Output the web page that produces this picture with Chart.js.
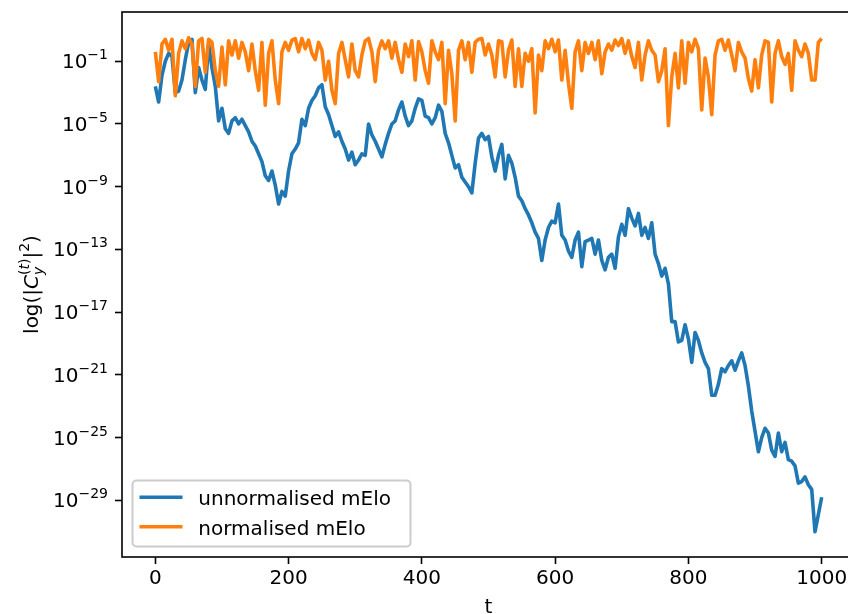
<!DOCTYPE html>
<html>
<head>
<meta charset="utf-8">
<script src="https://cdn.jsdelivr.net/npm/chart.js@4.4.1/dist/chart.umd.min.js"></script>
<style>
  html, body { margin: 0; padding: 0; background: #fff; }
  #wrap { width: 848px; height: 614px; overflow: hidden; }
  canvas { display: block; }
</style>
</head>
<body>
<div id="wrap"><canvas id="meloChart" width="860" height="614"></canvas></div>
<script>
// ONE READING EVERY 5 STEPS OF t
const T_STEP = 5;

// log10(|C_y|^2), t = 0, 5, ..., 1000
const unnormalisedExp = [
  -2.6, -3.6, -1.9, -1.0, -0.5, -0.7, -3.0, -2.9, -2.2, -0.9,
  0.2, 0.4, -3.0, -1.4, -2.2, -2.8, 0.1, -1.4, -2.6, -4.8,
  -4.0, -5.3, -5.6, -4.8, -4.6, -5.0, -4.7, -5.1, -5.5, -6.1,
  -6.4, -6.9, -7.4, -8.3, -8.6, -8.0, -8.9, -10.1, -9.3, -9.6,
  -8.0, -6.9, -6.6, -6.2, -4.7, -5.1, -4.0, -3.5, -3.2, -2.7,
  -2.5, -3.9, -4.4, -5.1, -5.8, -5.5, -6.1, -6.6, -7.3, -6.8,
  -7.6, -7.3, -6.9, -7.0, -5.0, -5.7, -6.1, -6.6, -7.1, -6.3,
  -5.6, -5.0, -4.8, -4.1, -3.6, -4.5, -5.1, -4.8, -4.0, -3.4,
  -3.5, -4.5, -4.6, -5.0, -4.6, -3.8, -4.2, -5.6, -6.2, -7.0,
  -7.8, -7.6, -8.4, -8.7, -9.0, -9.4, -7.5, -5.9, -5.6, -6.0,
  -5.8, -7.1, -8.0, -7.0, -6.3, -8.5, -7.0, -7.5, -8.4, -9.6,
  -9.9, -10.4, -10.8, -11.3, -11.9, -12.3, -13.7, -12.4, -11.6, -11.2,
  -11.3, -10.1, -12.1, -12.4, -13.1, -13.5, -12.4, -11.9, -14.1, -12.5,
  -12.4, -12.3, -13.3, -12.4, -13.7, -14.3, -13.5, -13.3, -14.2, -12.2,
  -11.4, -12.1, -10.4, -11.0, -11.5, -10.7, -12.1, -11.6, -12.3, -11.3,
  -13.3, -13.9, -14.7, -14.2, -15.2, -17.6, -17.6, -18.9, -18.8, -17.8,
  -18.7, -20.2, -18.3, -18.8, -19.6, -20.2, -20.6, -22.3, -22.3, -21.6,
  -20.6, -20.8, -20.4, -20.1, -20.7, -20.1, -19.6, -20.4, -21.7, -23.3,
  -24.6, -25.9, -25.0, -24.4, -24.7, -25.8, -26.2, -24.7, -25.9, -25.3,
  -26.4, -26.5, -26.8, -27.9, -27.8, -27.5, -28.0, -28.3, -31.0, -29.9,
  -28.8,
];

const normalisedExp = [
  -0.4, -2.3, 0.1, 0.4, -0.3, 0.4, -3.2, -0.5, 0.3, -0.2,
  0.5, 0.1, -2.6, 0.3, 0.45, -1.7, 0.4, 0.2, -1.6, -2.6,
  -0.1, -2.5, 0.3, -0.6, 0.3, -0.8, 0.2, -0.4, -1.6, 0.1,
  -1.6, -2.85, 0.2, -3.8, -0.5, 0.3, -2.2, -3.7, -0.4, 0.2,
  -0.3, 0.35, 0.45, -0.4, 0.45, -0.2, 0.35, -0.5, -0.9, 0.2,
  -0.3, -2.2, -1.0, -2.85, -3.7, -0.5, 0.2, -0.9, -2.0, 0.1,
  -1.6, -2.0, -0.6, 0.3, 0.45, -0.4, -2.3, -0.3, 0.3, -0.2,
  0.3, -0.8, 0.2, -0.9, -1.7, 0.1, -0.7, 0.3, -2.2, 0.25,
  -0.4, -1.6, -2.4, 0.3, -0.4, -0.9, 0.2, -3.7, -0.3, -1.8,
  -4.8, -0.3, 0.3, -0.9, 0.2, -1.7, 0.2, 0.4, 0.45, -0.6,
  0.1, -0.6, -2.0, 0.3, 0.25, -2.0, -0.3, 0.35, -2.6, -0.2,
  -2.6, -0.5, -1.0, -0.2, -4.3, -0.6, -1.6, 0.3, -0.2, 0.4,
  -0.4, 0.35, -2.2, -0.3, -2.4, -4.0, -0.4, 0.3, -1.6, 0.2,
  -0.5, 0.2, -0.9, 0.3, -1.8, -0.4, 0.1, -0.3, 0.35, 0.0,
  0.45, -0.5, 0.3, -0.7, -1.4, 0.2, -2.2, -0.6, 0.3, -0.3,
  -0.6, -2.3, -1.6, -0.2, -5.1, -2.0, -0.5, -2.7, 0.3, -2.4,
  0.2, -0.4, 0.4, -0.2, -4.1, -0.8, -2.0, -4.4, -0.6, 0.3,
  0.4, -0.3, 0.35, -0.6, -1.6, 0.2, -0.4, -0.8, -2.1, -2.9,
  -0.9, -2.7, -0.6, 0.3, 0.2, -3.6, -0.5, 0.3, -0.7, -1.2,
  -0.5, -2.85, 0.3, -0.3, -0.7, 0.1, -0.5, -2.2, -2.2, 0.2,
  0.45,
];

const xTickValues = [0, 200, 400, 600, 800, 1000];
const yTickExps = [-1, -5, -9, -13, -17, -21, -25, -29];
const seriesLabels = ["unnormalised mElo", "normalised mElo"];
const seriesColors = ["#1f77b4", "#ff7f0e"];

const FONT = "'DejaVu Sans', sans-serif";
const LINE_W = 3.6;

function toPoints(exps) {
  return exps.map((e, i) => ({ x: i * T_STEP, y: Math.pow(10, e) }));
}

// DRAW A ROW OF TEXT PIECES (NORMAL / ITALIC / RAISED / LOWERED)
function drawRuns(ctx, runs, startX, baseY) {
  let x = startX;
  runs.forEach((r) => {
    ctx.font = `${r.i ? "italic " : ""}${r.s}px ${FONT}`;
    ctx.fillText(r.t, x, baseY + (r.dy || 0));
    if (!r.hold) x += ctx.measureText(r.t).width;
  });
}

function runsWidth(ctx, runs) {
  return runs.reduce((w, r) => {
    if (r.hold) return w;
    ctx.font = `${r.i ? "italic " : ""}${r.s}px ${FONT}`;
    return w + ctx.measureText(r.t).width;
  }, 0);
}

const yTitleRuns = [
  { t: "log(|", s: 20 },
  { t: "C", s: 20, i: true },
  { t: "y", s: 14, i: true, dy: 5, hold: true },
  { t: "(", s: 14, dy: -9 },
  { t: "t", s: 14, i: true, dy: -9 },
  { t: ")", s: 14, dy: -9 },
  { t: "|", s: 20 },
  { t: "2", s: 14, dy: -9 },
  { t: ")", s: 20 },
];

// AXES FRAME, Y TICK LABELS, TITLES AND LEGEND
const decorations = {
  id: "decorations",
  afterDraw(chart) {
    const { ctx, chartArea: area, scales } = chart;
    ctx.save();

    ctx.strokeStyle = "#000";
    ctx.lineWidth = 1.6;
    ctx.strokeRect(area.left, area.top, area.right - area.left, area.bottom - area.top);

    // y tick labels as 10 with a raised exponent
    ctx.fillStyle = "#000";
    ctx.textBaseline = "alphabetic";
    ctx.textAlign = "left";
    yTickExps.forEach((e) => {
      const py = scales.y.getPixelForValue(Math.pow(10, e));
      const sup = "\u2212" + Math.abs(e);
      ctx.font = `14px ${FONT}`;
      const supW = ctx.measureText(sup).width;
      ctx.font = `20px ${FONT}`;
      const baseW = ctx.measureText("10").width;
      const right = 108;
      ctx.fillText("10", right - supW - baseW, py + 7);
      ctx.font = `14px ${FONT}`;
      ctx.fillText(sup, right - supW, py - 2);
    });

    // x title
    ctx.font = `20px ${FONT}`;
    ctx.textAlign = "center";
    ctx.fillText("t", (area.left + area.right) / 2, 613);

    // y title, rotated
    ctx.textAlign = "left";
    ctx.save();
    ctx.translate(38, (area.top + area.bottom) / 2);
    ctx.rotate(-Math.PI / 2);
    const w = runsWidth(ctx, yTitleRuns);
    drawRuns(ctx, yTitleRuns, -w / 2, 0);
    ctx.restore();

    // legend
    ctx.beginPath();
    ctx.roundRect(132.5, 480.5, 278, 66, 4);
    ctx.fillStyle = "rgba(255,255,255,0.8)";
    ctx.fill();
    ctx.strokeStyle = "#cccccc";
    ctx.lineWidth = 2;
    ctx.stroke();

    seriesLabels.forEach((label, i) => {
      const rowY = 497.3 + i * 29.4;
      ctx.beginPath();
      ctx.moveTo(139.5, rowY);
      ctx.lineTo(182.5, rowY);
      ctx.strokeStyle = seriesColors[i];
      ctx.lineWidth = LINE_W;
      ctx.stroke();
      ctx.fillStyle = "#000";
      ctx.font = `20px ${FONT}`;
      ctx.fillText(label, 198.3, rowY + 8);
    });

    ctx.restore();
  },
};

const tickGrid = {
  drawOnChartArea: false,
  drawTicks: true,
  tickLength: 7,
  tickWidth: 1.6,
  tickColor: "#000",
};

new Chart(document.getElementById("meloChart"), {
  type: "line",
  data: {
    datasets: [
      {
        label: seriesLabels[0],
        data: toPoints(unnormalisedExp),
        borderColor: seriesColors[0],
        borderWidth: LINE_W,
        pointRadius: 0,
        tension: 0,
        fill: false,
        borderJoinStyle: "round",
        order: 2,
      },
      {
        label: seriesLabels[1],
        data: toPoints(normalisedExp),
        borderColor: seriesColors[1],
        borderWidth: LINE_W,
        pointRadius: 0,
        tension: 0,
        fill: false,
        borderJoinStyle: "round",
        order: 1,
      },
    ],
  },
  options: {
    responsive: false,
    animation: false,
    devicePixelRatio: 1,
    events: [],
    layout: { padding: { top: 12, right: 5, bottom: 0, left: 0 } },
    scales: {
      x: {
        type: "linear",
        min: -50,
        max: 1050,
        afterBuildTicks: (axis) => {
          axis.ticks = xTickValues.map((v) => ({ value: v }));
        },
        afterFit: (axis) => {
          axis.height = 57;
        },
        grid: tickGrid,
        border: { display: false },
        ticks: {
          color: "#000",
          font: { family: FONT, size: 20 },
          padding: 3,
          maxRotation: 0,
          autoSkip: false,
          callback: (v) => String(v),
        },
      },
      y: {
        type: "logarithmic",
        min: Math.pow(10, -32.61),
        max: Math.pow(10, 2.14),
        afterBuildTicks: (axis) => {
          axis.ticks = yTickExps.map((e) => ({ value: Math.pow(10, e) }));
        },
        afterFit: (axis) => {
          axis.width = 122;
        },
        grid: tickGrid,
        border: { display: false },
        ticks: { display: false },
      },
    },
    plugins: {
      legend: { display: false },
      tooltip: { enabled: false },
    },
  },
  plugins: [decorations],
});
</script>
</body>
</html>
